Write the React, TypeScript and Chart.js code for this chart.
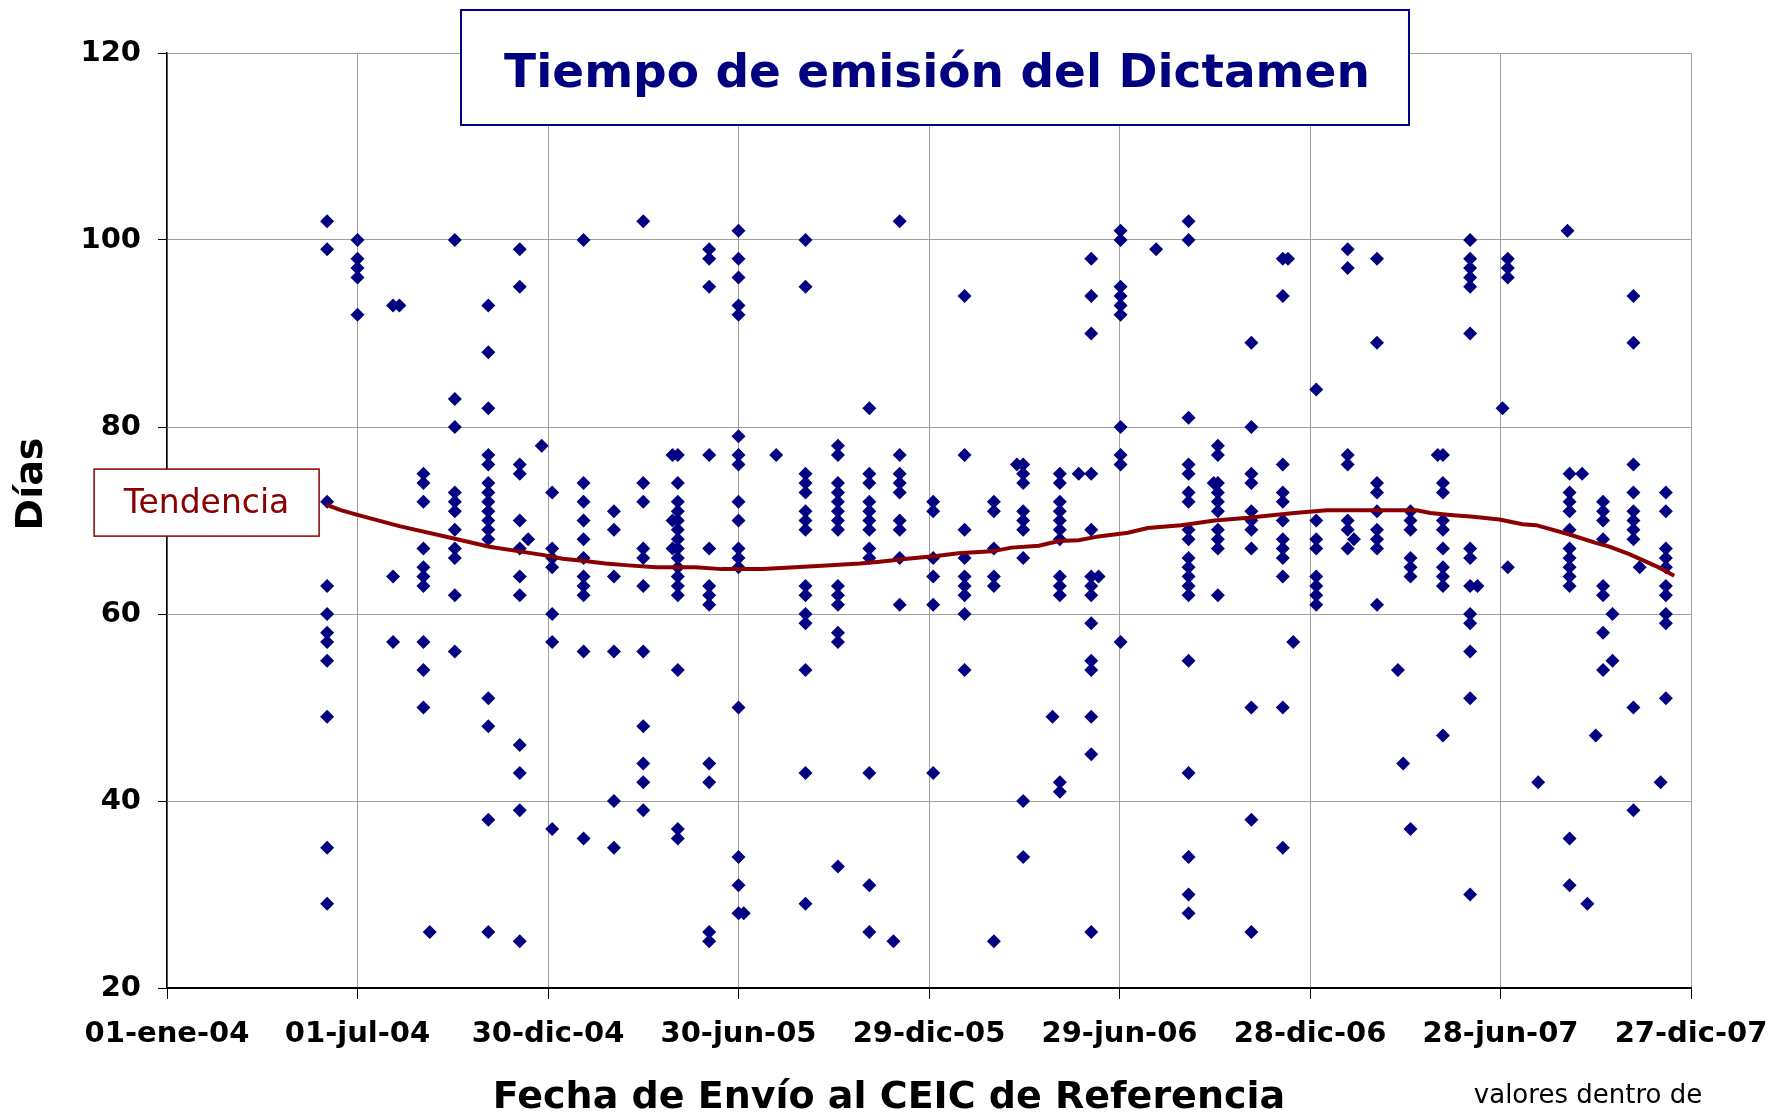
import { useEffect, useRef } from "react";
import { Chart, registerables } from "chart.js";

Chart.register(...registerables);

// Eje X: días transcurridos desde el 01-ene-04
const diasTicks = [0, 182, 364, 546, 728, 910, 1092, 1274, 1456];
const etiquetasFecha = [
  "01-ene-04", "01-jul-04", "30-dic-04", "30-jun-05", "29-dic-05",
  "29-jun-06", "28-dic-06", "28-jun-07", "27-dic-07",
];
const ejeYTicks = [20, 40, 60, 80, 100, 120];

// Fecha de envío al CEIC (días desde 01-ene-04) de cada grupo de solicitudes
const fechasEnvio = [
  153, 182, 216, 222, 245, 251, 275, 307, 337, 345, 358, 368, 398, 427, 455,
  483, 488, 518, 546, 551, 582, 610, 641, 671, 694, 700, 732, 762, 790, 812,
  818, 846, 853, 871, 883, 890, 911, 945, 976, 1000, 1004, 1036, 1066, 1071,
  1076, 1098, 1128, 1134, 1156, 1176, 1181, 1188, 1214, 1219, 1245, 1252,
  1276, 1281, 1310, 1338, 1340, 1352, 1357, 1365, 1372, 1381, 1401, 1407,
  1427, 1432,
];

// Días hasta la emisión del dictamen, por fecha de envío
const diasEmision = [
  [102, 99, 72, 63, 60, 58, 57, 55, 49, 35, 29],
  [100, 98, 97, 96, 92],
  [93, 64, 57],
  [93],
  [75, 74, 72, 67, 65, 64, 63, 57, 54, 50],
  [26],
  [100, 83, 80, 73, 72, 71, 69, 67, 66, 62, 56],
  [93, 88, 82, 77, 76, 74, 73, 72, 71, 70, 69, 68, 51, 48, 38, 26],
  [99, 95, 76, 75, 70, 67, 64, 62, 46, 43, 39, 25],
  [68],
  [78],
  [73, 67, 66, 65, 60, 57, 37],
  [100, 74, 72, 70, 68, 66, 64, 63, 62, 56, 36],
  [71, 69, 64, 56, 40, 35],
  [102, 74, 72, 67, 66, 63, 56, 48, 44, 42, 39],
  [77, 70, 67],
  [77, 74, 72, 71, 70, 69, 68, 67, 66, 65, 64, 63, 62, 54, 37, 36],
  [99, 98, 95, 77, 67, 63, 62, 61, 44, 42, 26, 25],
  [101, 98, 96, 93, 92, 79, 77, 76, 72, 70, 67, 66, 65, 50, 34, 31, 28],
  [28],
  [77],
  [100, 95, 75, 74, 73, 71, 70, 69, 63, 62, 60, 59, 54, 43, 29],
  [78, 77, 74, 73, 72, 71, 70, 69, 63, 62, 61, 58, 57, 33],
  [82, 75, 74, 72, 71, 70, 69, 67, 66, 43, 31, 26],
  [25],
  [102, 77, 75, 74, 73, 70, 69, 66, 61],
  [72, 71, 66, 64, 61, 43],
  [94, 77, 69, 66, 64, 63, 62, 60, 54],
  [72, 71, 67, 64, 63, 25],
  [76],
  [76, 75, 74, 71, 70, 69, 66, 40, 34],
  [49],
  [75, 74, 72, 71, 70, 69, 68, 64, 63, 62, 42, 41],
  [75],
  [98, 94, 90, 75, 69, 64, 63, 62, 59, 55, 54, 49, 45, 26],
  [64],
  [101, 100, 95, 94, 93, 92, 80, 77, 76, 57],
  [99],
  [102, 100, 81, 76, 75, 73, 72, 69, 68, 66, 65, 64, 63, 62, 55, 43, 34, 30, 28],
  [74],
  [78, 77, 74, 73, 72, 71, 69, 68, 67, 62],
  [89, 80, 75, 74, 71, 70, 69, 67, 50, 38, 26],
  [98, 94, 76, 73, 72, 70, 68, 67, 66, 64, 50, 35],
  [98],
  [57],
  [84, 70, 68, 67, 64, 63, 62, 61],
  [99, 97, 77, 76, 70, 69, 67],
  [68],
  [98, 89, 74, 73, 71, 69, 68, 67, 61],
  [54],
  [44],
  [71, 70, 69, 66, 65, 64, 37],
  [77],
  [77, 74, 73, 70, 69, 67, 65, 64, 63, 47],
  [100, 98, 97, 96, 95, 90, 67, 66, 63, 60, 59, 56, 51, 30],
  [63],
  [82],
  [98, 97, 96, 65],
  [42],
  [101],
  [75, 73, 72, 71, 69, 67, 66, 65, 64, 63, 36, 31],
  [75],
  [29],
  [47],
  [72, 71, 70, 68, 63, 62, 58, 54],
  [60, 55],
  [94, 89, 76, 73, 71, 70, 69, 68, 50, 39],
  [65],
  [42],
  [73, 71, 67, 66, 65, 63, 62, 60, 59, 51],
];

// Línea de tendencia
const tendenciaFechas = [
  152, 166, 182, 222, 273, 308, 337, 360, 378, 397, 419, 441, 467, 505, 530,
  569, 600, 630, 662, 681, 707, 735, 756, 788, 807, 833, 852, 871, 890, 918,
  937, 969, 1001, 1033, 1058, 1077, 1108, 1194, 1207, 1226, 1248, 1273, 1295,
  1308, 1340, 1365, 1378, 1397, 1413, 1423, 1440,
];
const tendenciaDias = [
  71.7, 71.1, 70.6, 69.4, 68.1, 67.2, 66.7, 66.3, 65.9, 65.7, 65.4, 65.2, 65.0,
  65.0, 64.8, 64.8, 65.0, 65.2, 65.4, 65.6, 65.9, 66.2, 66.5, 66.7, 67.1, 67.3,
  67.8, 67.9, 68.3, 68.7, 69.2, 69.5, 70.0, 70.3, 70.6, 70.8, 71.1, 71.1, 70.8,
  70.6, 70.4, 70.1, 69.6, 69.5, 68.5, 67.6, 67.2, 66.4, 65.6, 65.1, 64.1,
];

const FONT = '"DejaVu Sans", Verdana, sans-serif';
const NAVY = "#000080";
const DARKRED = "#8b0000";

const overlay = {
  id: "overlay",
  afterDraw(chart: any) {
    const ctx = chart.ctx as CanvasRenderingContext2D;
    const xs = chart.scales.x;
    const ys = chart.scales.y;
    ctx.save();

    // Caja de título
    const tx = 461, ty = 10, tw = 948, th = 115;
    ctx.fillStyle = "#ffffff";
    ctx.fillRect(tx, ty, tw, th);
    ctx.strokeStyle = NAVY;
    ctx.lineWidth = 2;
    ctx.strokeRect(tx, ty, tw, th);
    ctx.fillStyle = NAVY;
    ctx.font = `bold 47px ${FONT}`;
    ctx.textAlign = "center";
    ctx.textBaseline = "middle";
    ctx.fillText("Tiempo de emisión del Dictamen", tx + tw / 2 + 2, ty + th / 2 + 7);

    // Caja "Tendencia"
    const bx1 = xs.getPixelForValue(tendenciaFechas[0]) - 7;
    const bcy = ys.getPixelForValue(tendenciaDias[0]) - 2;
    const bw = 225, bh = 67;
    ctx.fillStyle = "#ffffff";
    ctx.fillRect(bx1 - bw, bcy - bh / 2, bw, bh);
    ctx.strokeStyle = DARKRED;
    ctx.lineWidth = 1.5;
    ctx.strokeRect(bx1 - bw, bcy - bh / 2, bw, bh);
    ctx.fillStyle = DARKRED;
    ctx.font = `33px ${FONT}`;
    ctx.fillText("Tendencia", bx1 - bw / 2, bcy + 2);

    // Títulos de ejes
    ctx.fillStyle = "#000000";
    ctx.font = `bold 38px ${FONT}`;
    ctx.fillText("Fecha de Envío al CEIC de Referencia", 889, 1098);
    ctx.save();
    ctx.translate(32, 484);
    ctx.rotate(-Math.PI / 2);
    ctx.fillText("Días", 0, 0);
    ctx.restore();

    ctx.font = `26px ${FONT}`;
    ctx.fillText("valores dentro de", 1588, 1096);
    ctx.restore();
  },
};

export default function App() {
  const ref = useRef<HTMLCanvasElement | null>(null);

  useEffect(() => {
    if (!ref.current) return;
    const puntos = fechasEnvio.flatMap((f, i) =>
      diasEmision[i].map((d) => ({ x: f, y: d }))
    );
    const tendencia = tendenciaFechas.map((f, i) => ({ x: f, y: tendenciaDias[i] }));

    const chart = new Chart(ref.current, {
      type: "scatter",
      data: {
        datasets: [
          {
            label: "Tendencia",
            data: tendencia,
            showLine: true,
            borderColor: DARKRED,
            borderWidth: 4,
            pointRadius: 0,
            fill: false,
            order: 0,
          } as any,
          {
            label: "Días",
            data: puntos,
            pointStyle: "rectRot",
            pointRadius: 7,
            backgroundColor: NAVY,
            borderColor: NAVY,
            borderWidth: 0,
            order: 1,
          } as any,
        ],
      },
      options: {
        animation: false,
        responsive: false,
        devicePixelRatio: 1,
        layout: { padding: { top: 53, right: 81, bottom: 0, left: 0 } },
        plugins: {
          legend: { display: false },
          tooltip: { enabled: false },
          title: { display: false },
        },
        scales: {
          x: {
            type: "linear",
            min: diasTicks[0],
            max: diasTicks[diasTicks.length - 1],
            afterBuildTicks: (s: any) => {
              s.ticks = diasTicks.map((v) => ({ value: v }));
            },
            afterFit: (s: any) => {
              s.height = 125;
              s.paddingLeft = 0;
              s.paddingRight = 0;
            },
            ticks: {
              callback: (v: any) => etiquetasFecha[diasTicks.indexOf(Number(v))],
              font: { family: FONT, size: 29, weight: "bold" },
              color: "#000",
              padding: 18,
              maxRotation: 0,
              autoSkip: false,
            },
            grid: {
              color: "#a0a0a0",
              lineWidth: 1,
              tickColor: "#000",
              tickLength: 11,
              drawTicks: true,
            },
            border: { color: "#000", width: 2 },
          },
          y: {
            type: "linear",
            min: ejeYTicks[0],
            max: ejeYTicks[ejeYTicks.length - 1],
            afterBuildTicks: (s: any) => {
              s.ticks = ejeYTicks.map((v) => ({ value: v }));
            },
            afterFit: (s: any) => {
              s.width = 167;
              s.paddingTop = 0;
              s.paddingBottom = 0;
            },
            ticks: {
              font: { family: FONT, size: 29, weight: "bold" },
              color: "#000",
              padding: 17,
            },
            grid: {
              color: "#a0a0a0",
              lineWidth: 1,
              tickColor: "#000",
              tickLength: 9,
              drawTicks: true,
            },
            border: { color: "#000", width: 1.5 },
          },
        },
      },
      plugins: [overlay],
    });
    return () => chart.destroy();
  }, []);

  return (
    <div
      style={{
        position: "fixed",
        left: 0,
        top: 0,
        width: 1772,
        height: 1113,
        background: "#ffffff",
        overflow: "hidden",
      }}
    >
      <canvas ref={ref} width={1772} height={1113} style={{ display: "block" }} />
    </div>
  );
}
